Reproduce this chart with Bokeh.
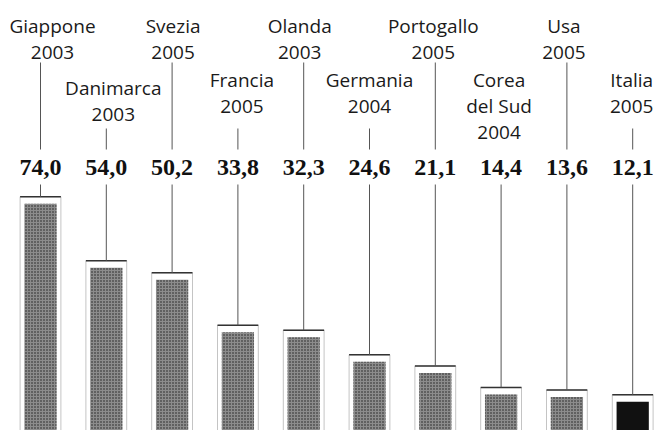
from bokeh.plotting import figure
from bokeh.models import Range1d
from bokeh.core.properties import value
from bokeh.embed import file_html
from bokeh.resources import INLINE

# ---- data ----
countries = ["Giappone", "Danimarca", "Svezia", "Francia", "Olanda",
             "Germania", "Portogallo", "Corea\ndel Sud", "Usa", "Italia"]
years = ["2003", "2003", "2005", "2005", "2003", "2004", "2005", "2004", "2005", "2005"]
values = [74.0, 54.0, 50.2, 33.8, 32.3, 24.6, 21.1, 14.4, 13.6, 12.1]
value_labels = [f"{v:.1f}".replace(".", ",") for v in values]

# ---- layout / style (screen px) ----
W, H = 661, 430
PX_PER_X = 65.8
X0 = 40.0
SCALE = 3.2          # px per unit
BASE = 433.0         # baseline, px from plot top
label_dx = [12, 7, 1, 4, -4, 0, -2, -2, -3, -1]
label_dy = [0, 8, 0, 0, 0, 0, 0, 0, 0, 0]
LINE_GAP = 26.5
ROW_TOP = [25, 79]
LINE_START = [62, 128]


def yd(ref_y):
    return (BASE - ref_y) / SCALE


p = figure(width=W, height=H, output_backend="svg", toolbar_location=None,
           x_range=Range1d(-X0 / PX_PER_X, (W - X0) / PX_PER_X),
           y_range=Range1d((BASE - H) / SCALE, BASE / SCALE),
           min_border=0)
p.axis.visible = False
p.grid.visible = False
p.outline_line_color = None
p.background_fill_color = "white"
p.border_fill_color = "white"

n = len(values)
xs = list(range(n))

# outer frames
p.quad(left=[x - 0.31 for x in xs], right=[x + 0.31 for x in xs],
       bottom=[0] * n, top=values, fill_color=None,
       line_color="#c4c4c4", line_width=1)

# textured bars
tex_top = [v - 7 / SCALE for v in values]
p.quad(left=[x - 0.245 for x in xs[:-1]], right=[x + 0.245 for x in xs[:-1]],
       bottom=[0] * (n - 1), top=tex_top[:-1],
       fill_color="#8c8c8c", line_color=None,
       hatch_pattern="dot", hatch_color="#1e1e1e", hatch_scale=3, hatch_weight=1)
# Italia solid black
p.quad(left=[xs[-1] - 0.245], right=[xs[-1] + 0.245], bottom=[0], top=[tex_top[-1]],
       fill_color="#111111", line_color=None)

# lids
p.segment(x0=[x - 0.31 for x in xs], x1=[x + 0.31 for x in xs],
          y0=values, y1=values, line_color="#333333", line_width=1.5)

# connector lines below value labels
p.segment(x0=xs, x1=xs, y0=[yd(184)] * n, y1=values, line_color="#555555", line_width=1)

# connector lines above value labels
ux, uy0 = [], []
for i in range(n):
    if "\n" in countries[i]:
        continue
    ux.append(i)
    uy0.append(yd(LINE_START[i % 2]))
p.segment(x0=ux, x1=ux, y0=uy0, y1=[yd(149)] * len(ux), line_color="#555555", line_width=1)

# country / year labels
lx, ly, lt = [], [], []
for i in range(n):
    lines = countries[i].split("\n") + [years[i]]
    top = ROW_TOP[i % 2] + label_dy[i]
    for k, t in enumerate(lines):
        lx.append(i + label_dx[i] / PX_PER_X)
        ly.append(yd(top + k * LINE_GAP))
        lt.append(t)
p.text(x=lx, y=ly, text=lt, text_font=value("Open Sans"), text_font_size="19px",
       text_align="center", text_baseline="middle", text_color="#1a1a1a")

# value labels
p.text(x=xs, y=[yd(167)] * n, text=value_labels, text_font=value("Liberation Serif"),
       text_font_size="24px", text_font_style="bold", text_align="center",
       text_baseline="middle", text_color="#111111")

open("out.html", "w").write(file_html(p, INLINE))
